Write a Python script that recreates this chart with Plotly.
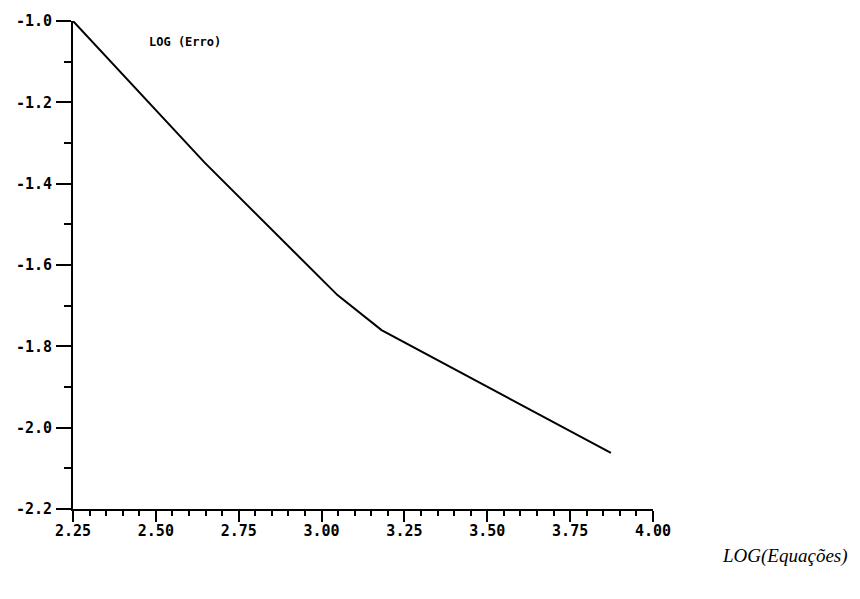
import plotly.graph_objects as go

# Data
log_equacoes = [2.25, 2.648, 3.048, 3.181, 3.873]
log_erro = [-1.00, -1.349, -1.674, -1.760, -2.062]

x_ticks = [2.25, 2.50, 2.75, 3.00, 3.25, 3.50, 3.75, 4.00]
x_tick_labels = ["2.25", "2.50", "2.75", "3.00", "3.25", "3.50", "3.75", "4.00"]
y_ticks = [-2.2, -2.0, -1.8, -1.6, -1.4, -1.2, -1.0]
y_tick_labels = ["-2.2", "-2.0", "-1.8", "-1.6", "-1.4", "-1.2", "-1.0"]

tick_font = dict(family="DejaVu Sans Mono", size=15, color="black")

fig = go.Figure()
fig.add_trace(go.Scatter(
    x=log_equacoes, y=log_erro, mode="lines",
    line=dict(color="black", width=2), showlegend=False, hoverinfo="skip",
))

fig.update_layout(
    width=860, height=599,
    margin=dict(l=73, r=207, t=21, b=90),
    paper_bgcolor="white", plot_bgcolor="white",
    xaxis=dict(
        range=[2.25, 4.0], showgrid=False, zeroline=False,
        showline=True, linecolor="black", linewidth=2,
        tickmode="array", tickvals=x_ticks,
        ticktext=["<b>" + t + "</b>" for t in x_tick_labels],
        ticks="outside", ticklen=11, tickwidth=2, tickcolor="black",
        tickfont=tick_font, ticklabelstandoff=-4,
        minor=dict(dtick=0.05, tick0=2.25, ticks="outside", ticklen=5,
                   tickwidth=2, tickcolor="black", showgrid=False),
    ),
    yaxis=dict(
        range=[-2.2, -1.0], showgrid=False, zeroline=False,
        showline=True, linecolor="black", linewidth=2,
        tickmode="array", tickvals=y_ticks,
        ticktext=["<b>" + t + "</b>" for t in y_tick_labels],
        ticks="outside", ticklen=15, tickwidth=2, tickcolor="black",
        tickfont=tick_font, ticklabelstandoff=1,
        minor=dict(dtick=0.1, tick0=-2.2, ticks="outside", ticklen=7,
                   tickwidth=2, tickcolor="black", showgrid=False),
    ),
    annotations=[
        dict(text="<b>LOG (Erro)</b>", x=0.193, y=0.957, xref="paper", yref="paper",
             showarrow=False, xanchor="center", yanchor="middle",
             font=dict(family="DejaVu Sans Mono", size=12, color="black")),
        dict(text="LOG(Equações)", x=1.340, y=-0.096, xref="paper", yref="paper",
             showarrow=False, xanchor="right", yanchor="middle",
             font=dict(family="Liberation Serif", size=19, color="black", style="italic")),
    ],
)

fig.write_html("out.html", config={"displayModeBar": False},
               post_script="document.body.style.margin='0px';")
